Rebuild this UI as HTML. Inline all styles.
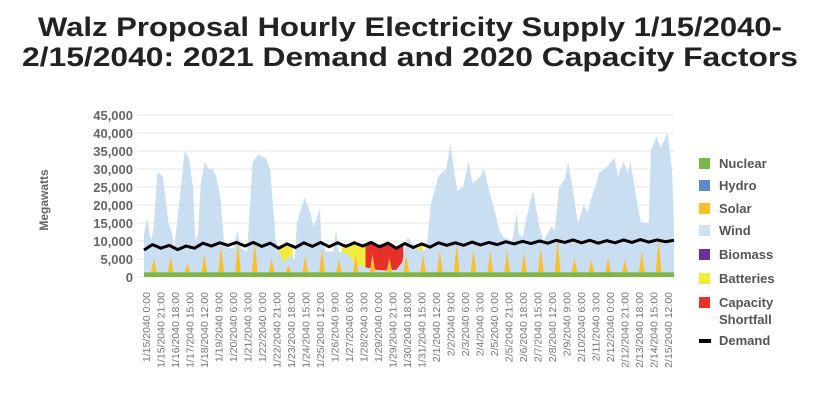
<!DOCTYPE html>
<html><head><meta charset="utf-8"><style>
body{margin:0;background:#fff;}
svg{display:block;font-family:"Liberation Sans",sans-serif;}
</style></head><body>
<svg id="chart" width="825" height="402" viewBox="0 0 825 402">
<text x="410" y="36" text-anchor="middle" font-size="27" font-weight="bold" fill="#222" textLength="744" lengthAdjust="spacingAndGlyphs">Walz Proposal Hourly Electricity Supply 1/15/2040-</text>
<text x="410" y="66" text-anchor="middle" font-size="27" font-weight="bold" fill="#222" textLength="776" lengthAdjust="spacingAndGlyphs">2/15/2040: 2021 Demand and 2020 Capacity Factors</text>
<text transform="translate(48,200) rotate(-90)" text-anchor="middle" font-size="12" font-weight="bold" fill="#666">Megawatts</text>
<g id="grid"></g><g id="ylabels"></g><g id="marks"></g><g id="xlabels"></g>
<g font-size="13" font-weight="bold" fill="#555">
<rect x="699" y="158" width="11" height="11" fill="#7ab648"/><text x="719" y="168">Nuclear</text>
<rect x="699" y="180" width="11" height="11" fill="#5b8cc8"/><text x="719" y="190">Hydro</text>
<rect x="699" y="203" width="11" height="11" fill="#fbbf2a"/><text x="719" y="213">Solar</text>
<rect x="699" y="225" width="11" height="11" fill="#cfe2f3"/><text x="719" y="235">Wind</text>
<rect x="699" y="249" width="11" height="11" fill="#6a2f9a"/><text x="719" y="259">Biomass</text>
<rect x="699" y="273" width="11" height="11" fill="#f3ea3a"/><text x="719" y="283">Batteries</text>
<rect x="699" y="297" width="11" height="11" fill="#e53128"/><text x="719" y="307">Capacity</text><text x="719" y="324">Shortfall</text>
<rect x="699" y="339" width="12" height="4" fill="#000"/><text x="719" y="345">Demand</text>
</g>
</svg>
<script>
const yTicks=[0,5000,10000,15000,20000,25000,30000,35000,40000,45000];
const windHours=[0,3,5,8,10,14,19,27,35,40,43,50,58,64,70,73,77,81,87,92,98,103,109,114,120,128,133,138,147,155,163,174,180,188,195,200,207,215,218,229,237,242,251,253,260,270,274,278,290,300,310,320,330,345,360,368,376,385,395,403,409,420,431,437,442,447,455,463,469,480,485,491,502,507,513,525,532,534,540,545,555,564,570,581,586,592,600,605,611,619,627,633,638,644,649,657,671,676,684,690,694,704,709,720,723,731,737,742,747,753,756];
const windValues=[12000,15000,16000,12000,10000,14000,29000,28000,15000,12000,8000,20000,35000,33000,25000,10000,12000,26000,32000,30000,30000,28000,22000,10000,8000,8000,13000,8000,7000,32000,34000,33000,30000,10000,6000,4000,6000,5000,15000,22000,18000,14000,19000,10000,7000,7000,13000,7000,6500,4000,3000,2500,2000,1800,2000,4000,11000,9000,7000,8000,20000,28000,30000,37000,30000,24000,25000,32000,26000,28000,30000,25000,17000,13000,11000,10000,18000,12000,11000,16000,24000,14000,10000,14000,13000,25000,27000,32000,25000,15000,20000,18000,22000,25000,29000,30000,33000,28000,32000,29000,32000,20000,15000,15000,35000,39000,36000,38000,40000,30000,15000];
const solarPeaks=[4000,4500,2500,5000,7500,8500,8500,4000,2000,4500,6500,3500,5000,5000,4000,5000,5000,6000,8000,6500,6000,6000,5500,7000,9500,4000,3500,4000,3500,6000,9000,9000];
const nuclearMW=[1300];
const demandValues=[7500,9000,8000,8800,7600,8600,8000,9400,8600,9500,8800,9600,8600,9600,8500,9400,8000,9200,8200,9500,8500,9600,8400,9500,8500,9500,8600,9600,8400,9400,8000,9300,8200,9200,8300,9500,8800,9500,8800,9700,8900,9600,9000,9800,9200,9900,9300,10000,9400,10200,9600,10300,9500,10200,9400,10100,9500,10300,9600,10400,9700,10300,9800,10200];
const batteryRanges=[[190,212],[282,316],[385,398]];
const shortfallRanges=[[316,370]];
const NS='http://www.w3.org/2000/svg';
const X0=144,X1=674,HMAX=756,Y0=277,SW=4;
const x=h=>X0+h*(X1-X0)/HMAX;
const y=v=>Y0-v*162/45000;
function el(t,a,p){const e=document.createElementNS(NS,t);for(const k in a)e.setAttribute(k,a[k]);p.appendChild(e);return e;}
function interp(hs,vs,h){for(let i=1;i<hs.length;i++){if(h<=hs[i]){const t=(h-hs[i-1])/(hs[i]-hs[i-1]);return vs[i-1]+t*(vs[i]-vs[i-1]);}}return vs[vs.length-1];}
const demandHours=demandValues.map((_,i)=>i*12);
const demand=h=>interp(demandHours,demandValues,h);
function solar(h){const d=Math.floor(h/24);const c=d*24+14;const dist=Math.abs(h-c);return dist<SW?solarPeaks[Math.min(d,solarPeaks.length-1)]*(1-dist/SW):0;}
const wind=h=>interp(windHours,windValues,h);
const grid=document.getElementById('grid'),yl=document.getElementById('ylabels'),marks=document.getElementById('marks'),xl=document.getElementById('xlabels');
yTicks.forEach(v=>{
 const l=el('line',{x1:137,x2:X1,y1:y(v),y2:y(v),stroke:'#e6e6e6','stroke-width':1},grid);
 
 
 const t=el('text',{x:133,y:y(v)+5,'text-anchor':'end','font-size':13,'font-weight':'bold',fill:'#666'},yl);
 t.textContent=v===0?'0':v.toLocaleString('en-US');
 
 
});
let pts=[x(0)+','+y(0)];
for(let h=0;h<=HMAX;h++)pts.push(x(h)+','+y(Math.max(wind(h),nuclearMW[0]+solar(h))));
pts.push(x(HMAX)+','+y(0));
const wa=el('polygon',{points:pts.join(' '),fill:'#c9dff1'},marks);


for(let d=0;d<solarPeaks.length;d++){
 const c=d*24+14;if(c>HMAX)continue;
 const s=el('polygon',{points:[x(c-SW)+','+y(nuclearMW[0]),x(c)+','+y(nuclearMW[0]+solarPeaks[d]),x(Math.min(c+SW,HMAX))+','+y(nuclearMW[0])].join(' '),fill:'#fbbf2a'},marks);
 
 
}
function gapArea(r,color,name){
 const top=[],bot=[];
 for(let h=r[0];h<=r[1];h++){const dm=demand(h);const sp=Math.max(wind(h),nuclearMW[0]+solar(h));top.push(x(h)+','+y(dm));bot.unshift(x(h)+','+y(Math.min(sp,dm)));}
 const p=el('polygon',{points:top.concat(bot).join(' '),fill:color},marks);
 
 
}
batteryRanges.forEach(r=>gapArea(r,'#f3ea3a','batteries-area'));
shortfallRanges.forEach(r=>gapArea(r,'#e53128','shortfall-area'));
const nb=el('rect',{x:X0,y:y(nuclearMW[0]),width:X1-X0,height:y(0)-y(nuclearMW[0]),fill:'#7ab648'},marks);


const dp=[];for(let h=0;h<=HMAX;h+=2){dp.push(x(h)+','+y(demand(h)));}
const dl=el('polyline',{points:dp.join(' '),fill:'none',stroke:'#000','stroke-width':3,'stroke-linejoin':'round'},marks);


for(let i=0;i<37;i++){
 const h=i*21;const dt=new Date(Date.UTC(2040,0,15,h));
 const lab=(dt.getUTCMonth()+1)+'/'+dt.getUTCDate()+'/2040 '+dt.getUTCHours()+':00';
 const bx=150+h*522/756;
 const t=el('text',{transform:'translate('+bx+',292) rotate(-90)','text-anchor':'end','font-size':10.5,fill:'#777'},xl);
 t.textContent=lab;
 
 
}
</script>
</body></html>
